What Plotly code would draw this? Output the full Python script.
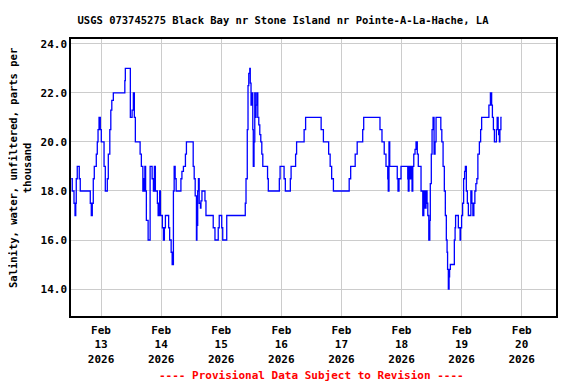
import pandas as pd
import plotly.graph_objects as go

# Hours after 2026-02-13 00:00 at which each salinity reading starts (step series)
hours = [-11.9, -11.5, -10.8, -10.4, -10.1, -9.9, -9.5, -8.7, -8.3, -4.3, -3.9, -3.5, -3.1, -2.7,
         -1.9, -1.5, -1.2, -0.8, -0.3, 0.1, 1.2, 1.7, 2.5, 2.9, 3.5, 3.9, 4.3, 4.9, 9.5, 9.7,
         11.7, 12.4, 12.9, 13.3, 13.7, 15.6, 16.1, 16.7, 17.0, 17.2, 17.5, 17.8, 18.1, 18.8,
         19.6, 20.4, 20.9, 21.3, 21.7, 22.5, 22.8, 23.2, 23.4, 23.7, 24.5, 24.9, 25.3, 25.7,
         26.8, 27.0, 27.4, 28.0, 28.4, 28.9, 29.2, 29.6, 30.0, 31.9, 32.3, 32.9, 33.7, 34.1,
         36.8, 37.2, 37.6, 38.1, 38.3, 38.6, 38.9, 39.2, 39.7, 39.9, 40.3, 41.5, 41.9, 44.8,
         45.5, 46.8, 47.2, 48.2, 48.6, 50.2, 57.6, 57.9, 58.4, 58.7, 59.0, 59.4, 59.6, 59.9,
         60.2, 60.6, 60.8, 61.1, 61.4, 61.6, 61.9, 62.2, 62.6, 63.0, 63.4, 63.8, 64.2, 64.6,
         66.5, 66.8, 71.2, 71.5, 73.1, 73.6, 75.6, 75.9, 77.7, 78.1, 81.1, 81.7, 87.9, 88.8,
         90.9, 91.5, 92.1, 92.8, 99.1, 99.7, 101.5, 102.3, 104.5, 104.9, 111.4, 112.2, 113.1,
         113.8, 114.5, 114.7, 115.0, 115.3, 118.3, 118.6, 119.0, 119.8, 122.5, 122.7, 123.0,
         123.4, 123.8, 124.2, 124.5, 124.9, 125.4, 125.8, 126.3, 126.7, 127.8, 128.5, 128.9,
         129.3, 129.8, 130.2, 130.5, 130.9, 131.3, 131.5, 131.9, 132.2, 132.6, 133.0, 133.4,
         133.8, 135.7, 136.1, 136.6, 137.1, 137.5, 137.9, 138.2, 138.4, 138.7, 139.0, 139.2,
         139.5, 140.8, 141.1, 141.4, 141.6, 142.7, 143.4, 143.6, 144.0, 144.4, 144.8, 145.2,
         145.5, 145.9, 146.3, 146.7, 147.7, 148.1, 148.5, 148.9, 149.3, 149.7, 150.1, 150.5,
         151.1, 151.6, 152.0, 154.9, 155.5, 156.0, 156.3, 156.7, 157.1, 157.9, 158.2, 158.6,
         158.8, 159.1, 159.3, 159.7, 160.0]
salinity = [18.5, 18, 17.5, 17, 17.5, 18.5, 19, 18.5, 18, 17.5, 17, 17.5, 18.5, 19,
            19.5, 20, 20.5, 21, 20.5, 20, 19, 18, 18.5, 19.5, 20.5, 21.3, 21.7, 22, 22.5, 23,
            21, 21.3, 22, 21, 20, 19.5, 19, 18, 18.5, 18, 19, 18, 16.8, 16,
            19, 18.5, 18, 19, 18, 17.5, 17, 17.5, 18, 17, 16.5, 16, 16.5, 17,
            17, 16.5, 16, 15.5, 15, 18, 19, 18.5, 18, 18.5, 18.8, 19, 19.5, 20,
            19, 18.5, 17.8, 16, 16.6, 18, 18.5, 17.5, 17.3, 17.6, 18, 17.6, 17, 16.5,
            16, 16.5, 17, 16.5, 16, 17, 17.5, 18.5, 20.5, 22.3, 22.8, 23, 22.4, 21.5,
            22, 20.5, 19, 20, 22, 21, 21.5, 22, 21, 20.7, 20.3, 20, 19.5, 19,
            18.5, 18, 18.5, 19, 18.5, 18, 18.5, 19, 19.5, 20, 20.5, 21, 20.5, 20,
            19.5, 19, 18.5, 18, 18.5, 19, 19.5, 20, 20.5, 21, 20.5, 20, 19.5,
            19, 18.5, 18, 20, 19, 18.5, 18, 18.5, 19, 18.5, 18, 19,
            18.5, 19, 18, 19, 19.5, 19.7, 20, 19.5, 19, 18, 17, 18,
            17.3, 18, 17.5, 17, 16, 16.8, 18.3, 19.5, 20.5, 21, 19.5, 20,
            21, 20.5, 20, 19, 18, 17, 16, 15.5, 14.8, 14, 14.5, 14.8,
            15, 15, 16, 16.5, 17, 16.5, 16, 16.5, 17, 17.5, 18.5, 18.8,
            19, 18, 17.5, 17, 18, 17.5, 17, 17.5, 18, 18.3, 18.5, 19.5,
            20, 20.5, 21, 21.5, 22, 21.5, 21, 20.5, 20, 20.5, 21, 20.5,
            20.3, 20, 20.5, 21, 21]

tick_days = ["2026-02-13", "2026-02-14", "2026-02-15", "2026-02-16",
             "2026-02-17", "2026-02-18", "2026-02-19", "2026-02-20"]
tick_labels = ["Feb<br>13<br>2026", "Feb<br>14<br>2026", "Feb<br>15<br>2026", "Feb<br>16<br>2026",
               "Feb<br>17<br>2026", "Feb<br>18<br>2026", "Feb<br>19<br>2026", "Feb<br>20<br>2026"]
y_ticks = [14, 16, 18, 20, 22, 24]

base = pd.Timestamp("2026-02-13 00:00")
times = [base + pd.Timedelta(hours=h) for h in hours]

FONT = "DejaVu Sans Mono"
W, H = 568, 376  # page body adds an 8px offset

fig = go.Figure()
fig.add_trace(go.Scatter(x=times, y=salinity, mode="lines", line_shape="hv",
                         line=dict(color="#0000ff", width=1.3), showlegend=False))

fig.update_layout(
    width=W, height=H,
    margin=dict(l=63, r=20, t=31, b=68, autoexpand=False),
    paper_bgcolor="white", plot_bgcolor="white",
    font=dict(family=FONT, size=11, color="black"),
    title=dict(text="<b>USGS 073745275 Black Bay nr Stone Island nr Pointe-A-La-Hache, LA</b>",
               x=275 / W, xanchor="center", y=1 - 12 / H, yanchor="middle",
               font=dict(family=FONT, size=10.5, color="black")),
)
fig.update_xaxes(
    range=[base - pd.Timedelta(hours=12), base + pd.Timedelta(hours=181.7)],
    tickvals=[pd.Timestamp(d) for d in tick_days],
    ticktext=["<b>" + t.replace("<br>", "</b><br><b>") + "</b>" for t in tick_labels],
    showgrid=True, gridcolor="#cccccc", gridwidth=1,
    showline=True, linecolor="black", linewidth=1.5, mirror=True,
    ticks="", zeroline=False, ticklabelstandoff=3,
    tickfont=dict(family=FONT, size=11, color="black"),
)
fig.update_yaxes(
    range=[12.9, 24.2],
    tickvals=y_ticks,
    ticktext=["<b>%.1f</b>" % v for v in y_ticks],
    showgrid=True, gridcolor="#cccccc", gridwidth=1,
    showline=True, linecolor="black", linewidth=1.5, mirror=True,
    ticks="", zeroline=False,
    tickfont=dict(family=FONT, size=11, color="black"),
)
fig.add_annotation(
    text="<b>Salinity, water, unfiltered, parts per</b><br><b>thousand</b>",
    xref="paper", yref="paper", x=(20 - 71) / 485, y=(316 - 168) / 277,
    textangle=-90, showarrow=False, xanchor="center", yanchor="middle",
    font=dict(family=FONT, size=10.5, color="black"),
)
fig.add_annotation(
    text="<b>---- Provisional Data Subject to Revision ----</b>",
    xref="paper", yref="paper", x=(311 - 71) / 485, y=(316 - 375) / 277,
    showarrow=False, xanchor="center", yanchor="middle",
    font=dict(family=FONT, size=11, color="#ff0000"),
)

fig.write_html("out.html")
